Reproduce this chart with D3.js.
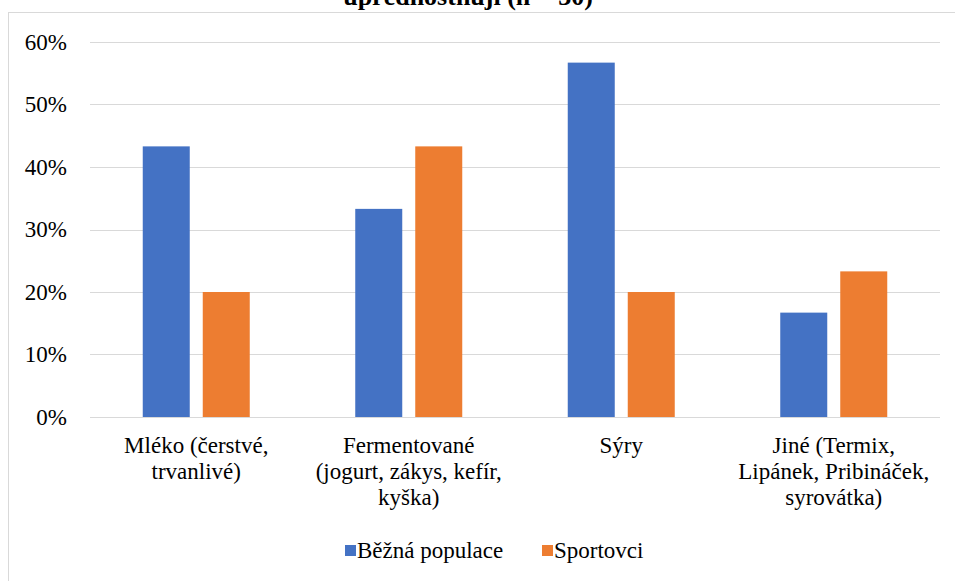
<!DOCTYPE html>
<html><head><meta charset="utf-8">
<script src="https://cdn.jsdelivr.net/npm/d3@7"></script>
<style>body{margin:0;background:#fff}svg{display:block}</style>
</head><body>
<script>
const categories = ["Mléko (čerstvé, trvanlivé)", "Fermentované (jogurt, zákys, kefír, kyška)", "Sýry", "Jiné (Termix, Lipánek, Pribináček, syrovátka)"];
const categoryLines = [["Mléko (čerstvé,", "trvanlivé)"], ["Fermentované", "(jogurt, zákys, kefír,", "kyška)"], ["Sýry"], ["Jiné (Termix,", "Lipánek, Pribináček,", "syrovátka)"]];
const seriesNames = ["Běžná populace", "Sportovci"];
const bezna = [0.433, 0.333, 0.567, 0.167];
const sportovci = [0.20, 0.433, 0.20, 0.233];
const yTicks = [0, 0.1, 0.2, 0.3, 0.4, 0.5, 0.6];
const colors = ["#4472C4", "#ED7D31"];
const titleText = "upřednostňují (n = 30)";

(function () {
const W = 955, H = 581;
const svg = d3.select("body").append("svg").attr("width", W).attr("height", H);
const font = "Liberation Serif, Tinos, Times New Roman, DejaVu Serif, Noto Serif, serif";
const fs = 23;

svg.append("rect").attr("x", 8.5).attr("y", 12.5).attr("width", 1000).attr("height", 700)
  .attr("fill", "none").attr("stroke", "#d9d9d9").attr("stroke-width", 1);

// title (its upper part lies above the picture, as in the reference)
svg.append("text").attr("x", 468).attr("y", 5).attr("text-anchor", "middle")
  .attr("font-family", font).attr("font-weight", "bold").attr("font-size", 26)
  .attr("fill", "#000").text(titleText);

const mLeft = 90, mRight = 940, mTop = 42, mBottom = 417;
const x = d3.scaleBand().domain(categories).range([mLeft, mRight]);
const y = d3.scaleLinear().domain([0, 0.6]).range([mBottom, mTop]);

svg.append("g").selectAll("line").data(yTicks).join("line")
  .attr("x1", mLeft).attr("x2", mRight)
  .attr("y1", d => Math.round(y(d)) + 0.5).attr("y2", d => Math.round(y(d)) + 0.5)
  .attr("stroke", "#d9d9d9").attr("stroke-width", 1);

const yAxis = d3.axisLeft(y).tickValues(yTicks).tickFormat(d3.format(".0%")).tickSize(0).tickPadding(0);
const gy = svg.append("g").attr("transform", `translate(${mLeft - 23},0)`).call(yAxis);
gy.select(".domain").remove();
gy.attr("font-family", font).attr("font-size", fs);
gy.selectAll("text").attr("fill", "#000");

const barW = 47, gap = 13;
[bezna, sportovci].forEach((vals, si) => {
  svg.append("g").selectAll("rect").data(categories).join("rect")
    .attr("x", (c) => x(c) + x.bandwidth() / 2 - (barW + gap / 2) + si * (barW + gap))
    .attr("y", (c, i) => y(vals[i]))
    .attr("width", barW)
    .attr("height", (c, i) => y(0) - y(vals[i]))
    .attr("fill", colors[si]);
});

const gx = svg.append("g").attr("font-family", font).attr("font-size", fs);
categories.forEach((c, i) => {
  const cx = x(c) + x.bandwidth() / 2;
  const t = gx.append("text").attr("x", cx).attr("y", 453).attr("text-anchor", "middle").attr("fill", "#000");
  categoryLines[i].forEach((ln, k) => {
    t.append("tspan").attr("x", cx).attr("dy", k ? 26 : 0).text(ln);
  });
});

const legend = svg.append("g").attr("font-family", font).attr("font-size", fs);
const legItems = [{x: 345, name: seriesNames[0], c: colors[0]}, {x: 542, name: seriesNames[1], c: colors[1]}];
legItems.forEach(it => {
  legend.append("rect").attr("x", it.x).attr("y", 545).attr("width", 11).attr("height", 11).attr("fill", it.c);
  legend.append("text").attr("x", it.x + 12).attr("y", 558).attr("fill", "#000").text(it.name);
});
})();
</script>
</body></html>
